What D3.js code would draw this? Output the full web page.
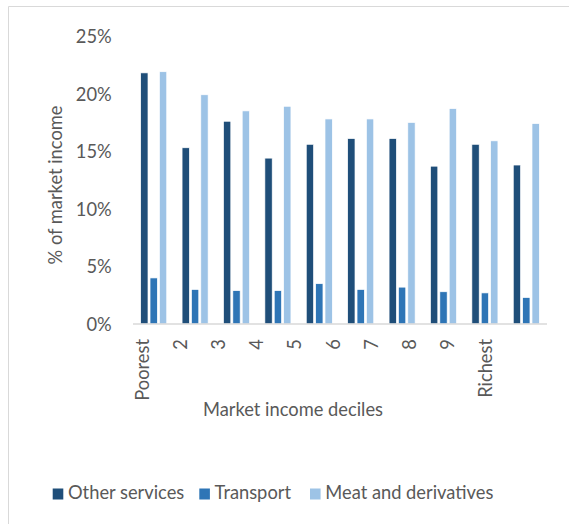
<!DOCTYPE html>
<html>
<head>
<meta charset="utf-8">
<script src="https://cdn.jsdelivr.net/npm/d3@7/dist/d3.min.js"></script>
<style>
  html, body { margin: 0; padding: 0; background: #fff; }
  svg { display: block; }
  text { font-family: Lato, "Open Sans", sans-serif; fill: #595959; }
</style>
</head>
<body>
<svg id="chart" width="569" height="524"></svg>
<script>
// ---- Data ----
const categories = ["Poorest", "2", "3", "4", "5", "6", "7", "8", "9", "Richest"];
const seriesNames = ["Other services", "Transport", "Meat and derivatives"];
const otherServices = [21.8, 15.3, 17.6, 14.4, 15.6, 16.1, 16.1, 13.7, 15.6, 13.8];
const transport = [4.0, 3.0, 2.9, 2.9, 3.5, 3.0, 3.2, 2.8, 2.7, 2.3];
const meatAndDerivatives = [21.9, 19.9, 18.5, 18.9, 17.8, 17.8, 17.5, 18.7, 15.9, 17.4];
const yTicks = [0, 5, 10, 15, 20, 25];
const colors = ["#1f4e79", "#2e75b6", "#9dc3e6"];

const seriesValues = [otherServices, transport, meatAndDerivatives];
const rows = categories.map((c, i) => ({
  cat: c,
  vals: seriesNames.map((s, j) => ({ series: s, value: seriesValues[j][i] }))
}));

const svg = d3.select("#chart");

// measure font size to match reference text widths
const probe = svg.append("text").attr("font-size", 100).text("Market income deciles");
const fs = 100 * 180 / probe.node().getComputedTextLength();
probe.remove();

// border (left and top visible)
svg.append("path")
  .attr("d", "M8.5,524 L8.5,6.5 L569,6.5")
  .attr("fill", "none").attr("stroke", "#d9d9d9").attr("stroke-width", 1);

// ---- Scales ----
const plot = { left: 133, right: 547, top: 36, bottom: 324 };
const x0 = d3.scaleBand().domain(categories).range([plot.left, plot.right])
  .paddingInner(0.37).paddingOuter(0.185);
const x1 = d3.scaleBand().domain(seriesNames).range([0, x0.bandwidth()])
  .paddingInner(0.215).paddingOuter(0);
const y = d3.scaleLinear().domain([0, 25]).range([plot.bottom, plot.top]);
const color = d3.scaleOrdinal().domain(seriesNames).range(colors);
// tick-label positions (labels in the reference sit slightly offset from groups)
const xLab = d3.scalePoint().domain(categories).range([148.3, 491.7]);

// ---- Bars ----
const g = svg.append("g");
g.selectAll("g.grp").data(rows).join("g")
  .attr("class", "grp")
  .attr("transform", d => `translate(${x0(d.cat)},0)`)
  .selectAll("rect").data(d => d.vals).join("rect")
  .attr("x", d => x1(d.series))
  .attr("width", x1.bandwidth())
  .attr("y", d => y(d.value))
  .attr("height", d => y(0) - y(d.value))
  .attr("fill", d => color(d.series))
  .attr("stroke", "#ffffff").attr("stroke-width", 0.7);

// baseline
svg.append("line")
  .attr("x1", plot.left).attr("x2", plot.right)
  .attr("y1", y(0)).attr("y2", y(0))
  .attr("stroke", "#d9d9d9").attr("stroke-width", 1.5);

// ---- Y axis ----
const yAxis = d3.axisLeft(y).tickValues(yTicks).tickFormat(d => d + "%").tickSize(0).tickPadding(0);
const ya = svg.append("g").attr("transform", "translate(111.7,0)").call(yAxis);
ya.select(".domain").remove();
ya.selectAll("text")
  .attr("font-family", "Lato, 'Open Sans', sans-serif")
  .attr("font-size", fs).attr("fill", "#595959")
  .attr("dy", "0.36em");

// ---- X axis labels ----
const xAxis = d3.axisBottom(xLab).tickSize(0).tickPadding(0);
const xa = svg.append("g").attr("transform", "translate(0,339)").call(xAxis);
xa.select(".domain").remove();
xa.selectAll("text")
  .attr("font-family", "Lato, 'Open Sans', sans-serif")
  .attr("font-size", fs).attr("fill", "#595959")
  .attr("transform", "rotate(-90)")
  .attr("x", 0).attr("y", 0).attr("dy", 0)
  .attr("text-anchor", "end");

// ---- Axis titles ----
svg.append("text")
  .attr("x", 293).attr("y", 416)
  .attr("text-anchor", "middle").attr("font-size", fs)
  .text("Market income deciles");

svg.append("text")
  .attr("transform", "translate(62,185) rotate(-90)")
  .attr("text-anchor", "middle").attr("font-size", fs)
  .text("% of market income");

// ---- Legend ----
const legendX = [52.7, 199.3, 310];
const lg = svg.append("g");
seriesNames.forEach((s, i) => {
  lg.append("rect").attr("x", legendX[i]).attr("y", 488.5)
    .attr("width", 10.6).attr("height", 11).attr("fill", colors[i]);
  lg.append("text").attr("x", legendX[i] + 15.3).attr("y", 499)
    .attr("font-size", fs).text(s);
});
</script>
</body>
</html>
